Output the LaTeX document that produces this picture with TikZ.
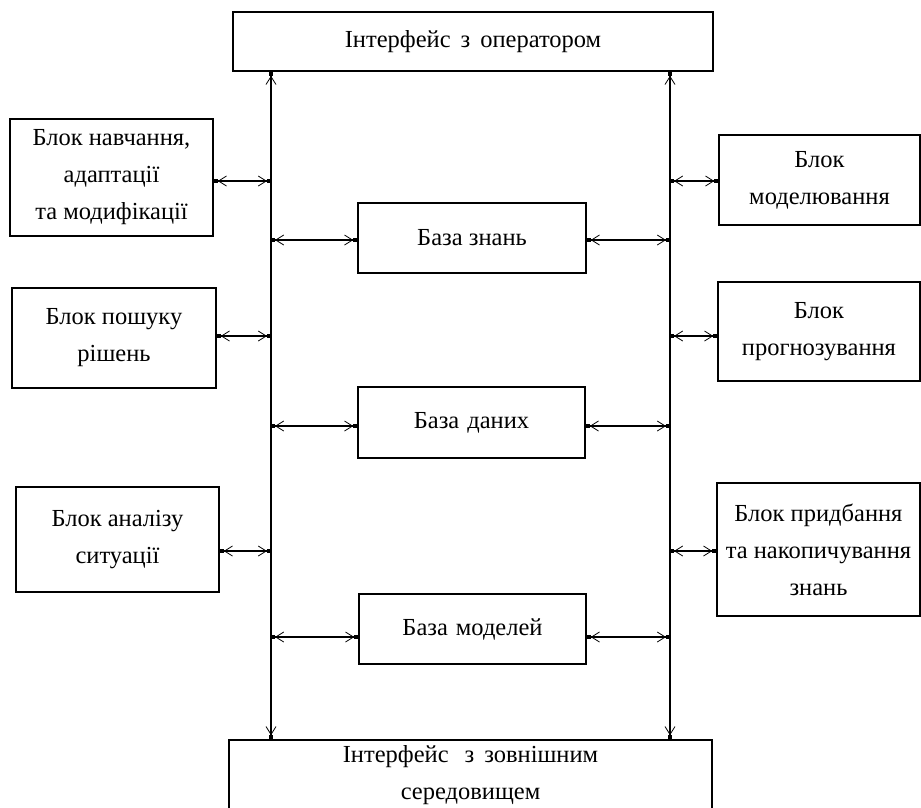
\documentclass[tikz,border=0pt]{standalone}
\usepackage{fontspec}
\setmainfont{Liberation Serif}
\usetikzlibrary{arrows.meta}
\begin{document}
\begin{tikzpicture}[x=1pt,y=-1pt,
  box/.style={draw,line width=1.5pt,align=center,inner sep=0pt,font=\fontsize{24.5}{37}\selectfont},
  link/.style={line width=1.3pt,
    {Square[length=4pt,width=4pt]Straight Barb[length=8pt,width=10pt,line width=0.8pt]}-{Straight Barb[length=8pt,width=10pt,line width=0.8pt]Square[length=4pt,width=4pt]}}]
\useasboundingbox (0,0) rectangle (921,807);
\clip (0,0) rectangle (921,807);
% boxes
\node[box,minimum width=480pt,minimum height=59pt] (top) at (473,41.5) {\raisebox{-3pt}{Інтерфейс\hspace{10pt}з\hspace{10pt}оператором}};
\node[box,minimum width=483pt,minimum height=70pt] (bot) at (470.5,775) {Інтерфейс\hspace{16pt}з\hspace{10pt}зовнішним\\середовищем};
\node[box,minimum width=203pt,minimum height=117pt] (L1) at (111.5,177.5) {Блок навчання,\\адаптації\\та модифікації};
\node[box,minimum width=204pt,minimum height=100pt] (L2) at (114,338) {Блок пошуку\\рішень};
\node[box,minimum width=203pt,minimum height=105pt] (L3) at (117.5,539.5) {Блок аналізу\\ситуації};
\node[box,minimum width=201pt,minimum height=90pt] (R1) at (819.5,180) {Блок\\моделювання};
\node[box,minimum width=202pt,minimum height=99pt] (R2) at (819,331.5) {Блок\\прогнозування};
\node[box,minimum width=203pt,minimum height=133pt] (R3) at (818.5,549.5) {Блок придбання\\та накопичування\\знань};
\node[box,minimum width=228pt,minimum height=70pt] (M1) at (472,238) {База знань};
\node[box,minimum width=227pt,minimum height=71pt] (M2) at (471.5,422.5) {База\hspace{8pt}даних};
\node[box,minimum width=227pt,minimum height=70pt] (M3) at (472.5,629) {База\hspace{8pt}моделей};
% bus lines
\coordinate (VL) at (271,0);
\coordinate (VR) at (670,0);
\draw[link] (top.south -| VL) -- (bot.north -| VL);
\draw[link] (top.south -| VR) -- (bot.north -| VR);
% heights
\coordinate (a1) at (0,181);
\coordinate (a2) at (0,336);
\coordinate (a3) at (0,551);
\coordinate (m1) at (0,240);
\coordinate (m2) at (0,426);
\coordinate (m3) at (0,637);
% side links
\draw[link] (L1.east |- a1) -- (VL |- a1);
\draw[link] (L2.east |- a2) -- (VL |- a2);
\draw[link] (L3.east |- a3) -- (VL |- a3);
\draw[link] (VR |- a1) -- (R1.west |- a1);
\draw[link] (VR |- a2) -- (R2.west |- a2);
\draw[link] (VR |- a3) -- (R3.west |- a3);
% base links
\draw[link] (VL |- m1) -- (M1.west |- m1);
\draw[link] (M1.east |- m1) -- (VR |- m1);
\draw[link] (VL |- m2) -- (M2.west |- m2);
\draw[link] (M2.east |- m2) -- (VR |- m2);
\draw[link] (VL |- m3) -- (M3.west |- m3);
\draw[link] (M3.east |- m3) -- (VR |- m3);
\end{tikzpicture}
\end{document}
